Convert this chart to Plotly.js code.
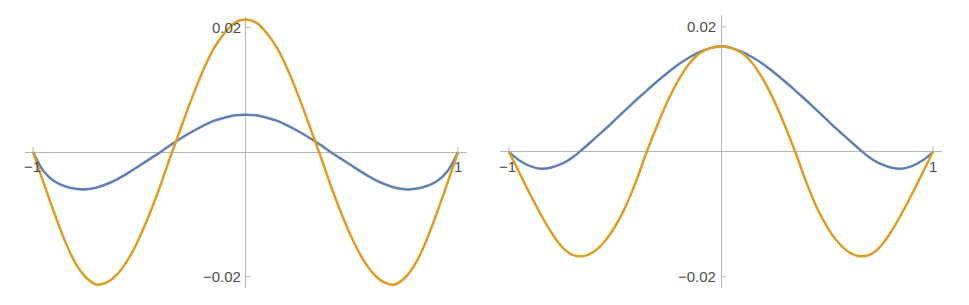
<!DOCTYPE html>
<html>
<head>
<meta charset="utf-8">
<script src="https://cdn.plot.ly/plotly-3.0.1.min.js"></script>
<style>html,body{margin:0;padding:0;background:#fff;}#chart{width:969px;height:305px;}</style>
</head>
<body>
<div id="chart"></div>
<script>
const xs = [-1,-0.95,-0.9,-0.85,-0.8,-0.75,-0.7,-0.65,-0.6,-0.55,-0.5,-0.45,-0.4,-0.35,-0.3,-0.25,-0.2,-0.15,-0.1,-0.05,0,
            0.05,0.1,0.15,0.2,0.25,0.3,0.35,0.4,0.45,0.5,0.55,0.6,0.65,0.7,0.75,0.8,0.85,0.9,0.95,1];

const leftBlue = [0,-0.0031,-0.0047,-0.0055,-0.0059,-0.0060,-0.0057,-0.0051,-0.0043,-0.0033,-0.0022,-0.0011,0.0000,0.0012,0.0023,0.0033,0.0042,0.0050,0.0055,0.0059,0.0060,
                  0.0059,0.0055,0.0050,0.0042,0.0033,0.0023,0.0012,0.0000,-0.0011,-0.0022,-0.0033,-0.0043,-0.0051,-0.0057,-0.0060,-0.0059,-0.0055,-0.0047,-0.0031,0];

const leftOrange = [0,-0.0050,-0.0098,-0.0143,-0.0179,-0.0202,-0.0213,-0.0209,-0.0195,-0.0171,-0.0138,-0.0098,-0.0053,-0.0004,0.0043,0.0089,0.0131,0.0166,0.0191,0.0208,0.0213,
                    0.0208,0.0191,0.0166,0.0131,0.0089,0.0043,-0.0004,-0.0053,-0.0098,-0.0138,-0.0171,-0.0195,-0.0209,-0.0213,-0.0202,-0.0179,-0.0143,-0.0098,-0.0050,0];

const rightBlue = [0,-0.0014,-0.0023,-0.0027,-0.0025,-0.0019,-0.0009,0.0005,0.0020,0.0035,0.0051,0.0067,0.0083,0.0098,0.0113,0.0127,0.0140,0.0151,0.0160,0.0166,0.0169,
                   0.0166,0.0160,0.0151,0.0140,0.0127,0.0113,0.0098,0.0083,0.0067,0.0051,0.0035,0.0020,0.0005,-0.0009,-0.0019,-0.0025,-0.0027,-0.0023,-0.0014,0];

const rightOrange = [0,-0.0034,-0.0068,-0.0100,-0.0129,-0.0152,-0.0165,-0.0167,-0.0160,-0.0144,-0.0120,-0.0088,-0.0047,0.0000,0.0043,0.0082,0.0115,0.0141,0.0158,0.0166,0.0169,
                     0.0166,0.0158,0.0141,0.0115,0.0082,0.0043,0.0000,-0.0047,-0.0088,-0.0120,-0.0144,-0.0160,-0.0167,-0.0165,-0.0152,-0.0129,-0.0100,-0.0068,-0.0034,0];

const xTickVals = [-1, 1];
const xTickText = ['\u22121', '1'];
const yTickVals = [0.02, -0.02];
const yTickText = ['0.02', '\u22120.02'];

const BLUE = '#5E81B5';
const ORANGE = '#E19C24';
const AXIS = '#b4b4b4';
const TXT = '#4d4d4d';
const FONT = 'Liberation Sans, Arial, sans-serif';
const W = 969, H = 305;

function line(x, y, color, xa, ya) {
  return {x: x, y: y, type: 'scatter', mode: 'lines', xaxis: xa, yaxis: ya,
          line: {color: color, width: 2.5, shape: 'spline', smoothing: 1}, hoverinfo: 'skip', showlegend: false};
}

const data = [
  line(xs, leftBlue, BLUE, 'x', 'y'),
  line(xs, leftOrange, ORANGE, 'x', 'y'),
  line(xs, rightBlue, BLUE, 'x2', 'y2'),
  line(xs, rightOrange, ORANGE, 'x2', 'y2')
];

function ax(dom, rng, anchor) {
  return {domain: dom, range: rng, anchor: anchor, showgrid: false, showticklabels: false, ticks: '', showline: false,
          zeroline: true, zerolinecolor: AXIS, zerolinewidth: 1, fixedrange: true};
}

const annotations = [];
const shapes = [];
[['x','y'],['x2','y2']].forEach(([xa, ya]) => {
  xTickVals.forEach((v, i) => {
    annotations.push({xref: xa, yref: ya, x: v, y: 0, text: xTickText[i], showarrow: false,
      xanchor: 'center', yanchor: 'top', yshift: -4, xshift: i === 0 ? -1 : 0, font: {family: FONT, size: 15, color: TXT}});
    shapes.push({type: 'line', xref: xa, yref: ya, x0: v, x1: v, ysizemode: 'pixel', yanchor: 0, y0: 0, y1: 5,
      line: {color: AXIS, width: 1}});
  });
  yTickVals.forEach((v, i) => {
    annotations.push({xref: xa, yref: ya, x: 0, y: v, text: yTickText[i], showarrow: false,
      xanchor: 'right', yanchor: 'middle', xshift: -3, font: {family: FONT, size: 15, color: TXT}});
    shapes.push({type: 'line', xref: xa, yref: ya, y0: v, y1: v, xsizemode: 'pixel', xanchor: 0, x0: 0, x1: 5,
      line: {color: AXIS, width: 1}});
  });
});

const layout = {
  width: W, height: H,
  margin: {l: 0, r: 0, t: 0, b: 0, pad: 0},
  paper_bgcolor: '#fff', plot_bgcolor: 'rgba(0,0,0,0)',
  showlegend: false,
  xaxis: ax([25/W, 467/W], [-1.038, 1.042], 'y'),
  yaxis: ax([1-288/H, 1-17/H], [-0.02185, 0.0217], 'x'),
  xaxis2: ax([500/W, 942/W], [-1.042, 1.042], 'y2'),
  yaxis2: ax([1-288/H, 1-15/H], [-0.0218, 0.0219], 'x2'),
  annotations: annotations,
  shapes: shapes
};

Plotly.newPlot('chart', data, layout, {staticPlot: true, displayModeBar: false});
</script>
</body>
</html>
